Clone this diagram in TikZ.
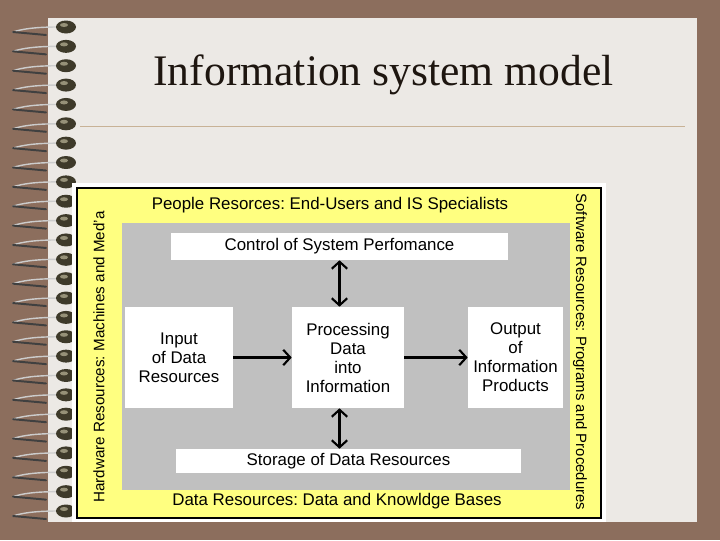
\documentclass[tikz,border=0pt]{standalone}
\usepackage{fontspec}
\setmainfont{Liberation Serif}
\setsansfont{Liberation Sans}
\usetikzlibrary{arrows.meta}
\frenchspacing

\definecolor{deskbrown}{RGB}{140,110,93}
\definecolor{paper}{RGB}{236,233,229}
\definecolor{rulecolor}{RGB}{200,178,150}
\definecolor{padyellow}{RGB}{255,255,128}
\definecolor{padgray}{RGB}{192,192,192}
\definecolor{beaddark}{RGB}{62,58,42}
\definecolor{beadlight}{RGB}{150,145,120}
\definecolor{titleink}{RGB}{30,22,16}

\tikzset{
  panel/.style={rectangle, fill=white, inner sep=0pt, align=center, font=\sffamily\fontsize{12}{13.5}\selectfont},
  sidelabel/.style={inner sep=0pt, font=\sffamily\fontsize{12}{13.5}\selectfont},
  arrow/.style={-{Straight Barb[length=5pt, width=11pt]}, line width=1.5pt},
  twoway/.style={{Straight Barb[length=5pt, width=11pt]}-{Straight Barb[length=5pt, width=11pt]}, line width=1.5pt},
  wire/.style={line width=1pt, line cap=round},
}

\begin{document}
\begin{tikzpicture}[x=0.025cm, y=-0.025cm]

  % Hintergrund und Blatt
  \fill[deskbrown] (0,0) rectangle (720,540);
  \fill[paper] (48,18) rectangle (697,522);

  % Spiralbindung
  \foreach \i in {0,...,25} {
    \pgfmathsetmacro\yy{27+19.36*\i}
    \draw[wire, black!20] (58,\yy) .. controls (35,\yy) and (22,\yy+2) .. (13,\yy+5);
    \draw[wire, black!75, line width=1.4pt] (13,\yy+5) -- (46,\yy+8);
    \fill[beaddark] (66,\yy) ellipse [x radius=10, y radius=6.5];
    \fill[beadlight] (64,\yy-2) ellipse [x radius=4, y radius=2];
  }

  % Titel
  \node[font=\fontsize{31}{36}\selectfont, text=titleink] (title) at (383.5,75) {Information system model};
  \draw[rulecolor] (80,126) -- (685,126);

  % Rahmen des Modells
  \fill[white] (72,183) rectangle (606,522);
  \draw[line width=2pt, fill=padyellow] (77,188) rectangle (601,518);
  \fill[padgray] (122,223) rectangle (570,490);

  % Ressourcen rundherum
  \node[sidelabel] (people) at (330,205) {People Resorces: End-Users and IS Specialists};
  \node[sidelabel] (data) at (337,501) {Data Resources: Data and Knowldge Bases};
  \node[sidelabel, rotate=90, font=\sffamily\fontsize{10.8}{12}\selectfont] (hardware) at (99,357) {Hardware Resources: Machines and Med'a};
  \node[sidelabel, rotate=-90, font=\sffamily\fontsize{10.6}{12}\selectfont] (software) at (580,352) {Software Resources: Programs and Procedures};

  % Aktivitaeten
  \node[panel, minimum width=8.425cm, minimum height=0.675cm] (control) at (339.5,246.5) {Control of System Perfomance};
  \node[panel, minimum width=2.7cm, minimum height=2.525cm] (input) at (179,357.5) {Input\\of Data\\Resources};
  \node[panel, minimum width=2.8cm, minimum height=2.525cm] (processing) at (348,357.5) {Processing\\Data\\into\\Information};
  \node[panel, minimum width=2.375cm, minimum height=2.525cm] (output) at (515.5,357.5) {Output\\of\\Information\\Products};
  \node[panel, minimum width=8.625cm, minimum height=0.6cm] (storage) at (348.5,461) {Storage of Data Resources};

  % Verbindungen
  \draw[twoway] (control.south) -- (control.south |- processing.north);
  \draw[twoway] (control.south |- processing.south) -- (control.south |- storage.north);
  \draw[arrow] (input) -- (processing);
  \draw[arrow] (processing) -- (output);

\end{tikzpicture}
\end{document}
